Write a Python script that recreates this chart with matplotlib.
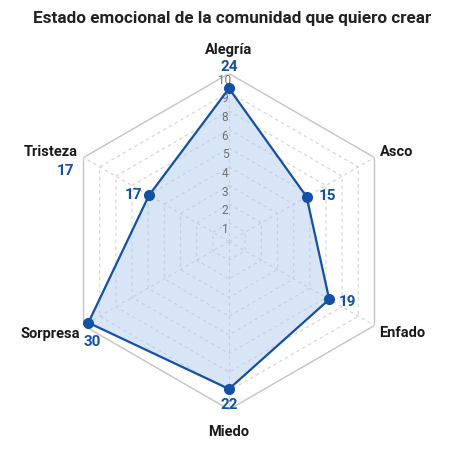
import numpy as np
import matplotlib
matplotlib.use('Agg')
import matplotlib.pyplot as plt

# emociones, en sentido horario desde arriba
categories = ['Alegría', 'Asco', 'Enfado', 'Miedo', 'Sorpresa', 'Tristeza']
values = [24, 15, 19, 22, 30, 17]
# posicion radial de cada punto sobre la escala de anillos
scores = [8.2, 4.8, 6.2, 7.9, 8.7, 4.95]
ring_labels = ['1', '2', '3', '4', '5', '6', '8', '9', '10']
title = 'Estado emocional de la comunidad que quiero crear'

FONT = ['Liberation Sans Narrow', 'Roboto', 'DejaVu Sans']
plt.rcParams['font.family'] = FONT

BLUE = '#1450a3'
GRID = '#d2d2d2'

fig = plt.figure(figsize=(4.64, 4.64), dpi=100)
ax = fig.add_axes([0.1315, 0.1153, 0.7241, 0.7241], projection='polar')
ax.set_theta_offset(np.pi / 2)
ax.set_theta_direction(-1)
ax.axis('off')

n = len(categories)
angles = np.arange(n) * 2 * np.pi / n
closed = np.append(angles, angles[0])
nrings = len(ring_labels)
ax.set_ylim(0, nrings)

# anillos hexagonales
for k in range(1, nrings + 1):
    r = np.full(n + 1, k)
    if k == nrings:
        ax.plot(closed, r, color='#c4c4c4', lw=1.0, zorder=1)
    else:
        ax.plot(closed, r, color=GRID, lw=0.8, ls=(0, (3, 3)), zorder=1)

# radios
for a in angles:
    ax.plot([a, a], [0, nrings], color=GRID, lw=0.8, ls=(0, (3, 3)), zorder=1)

# serie
sc = np.append(scores, scores[0])
ax.fill(closed, sc, color='#b3cdee', alpha=0.5, zorder=2)
ax.plot(closed, sc, color=BLUE, lw=1.6, zorder=3)
ax.plot(angles, scores, 'o', color=BLUE, ms=7, zorder=4)

# etiquetas de anillos
for k, lab in enumerate(ring_labels, start=1):
    ax.annotate(lab, xy=(0, k), xytext=(-4, -5.5), textcoords='offset pixels',
                ha='center', va='center', fontsize=8.5, color='#707070', zorder=2)

# etiquetas de categoria: (dx, dy, ha)
cat_pos = [(0, 25, 'center'), (5, 7, 'left'), (5, -6, 'left'),
           (0, -21, 'center'), (-4, -7, 'right'), (-6, 7, 'right')]
for a, lab, (dx, dy, ha) in zip(angles, categories, cat_pos):
    ax.annotate(lab, xy=(a, nrings), xytext=(dx, dy), textcoords='offset pixels',
                ha=ha, va='center', fontsize=10.5, fontweight='bold', color='#1a1a1a',
                annotation_clip=False)

# valores junto a cada punto
val_pos = [(0, 22, 'center'), (12, 1.5, 'left'), (9, -1.5, 'left'),
           (0, -15, 'center'), (4, -18, 'center'), (-7, 1, 'right')]
for a, s, v, (dx, dy, ha) in zip(angles, scores, values, val_pos):
    ax.annotate(str(v), xy=(a, s), xytext=(dx, dy), textcoords='offset pixels',
                ha=ha, va='center', fontsize=11, fontweight='bold', color=BLUE,
                annotation_clip=False, zorder=5)

# valor repetido bajo "Tristeza"
ax.annotate(str(values[5]), xy=(angles[5], nrings), xytext=(-9, -12.5),
            textcoords='offset pixels', ha='right', va='center', fontsize=11,
            fontweight='bold', color=BLUE, annotation_clip=False)

fig.text(0.5, 1 - 18 / 464, title, ha='center', va='center', fontsize=12.3,
         fontweight='bold', color='#222222')

fig.savefig('out.png', dpi=100)
